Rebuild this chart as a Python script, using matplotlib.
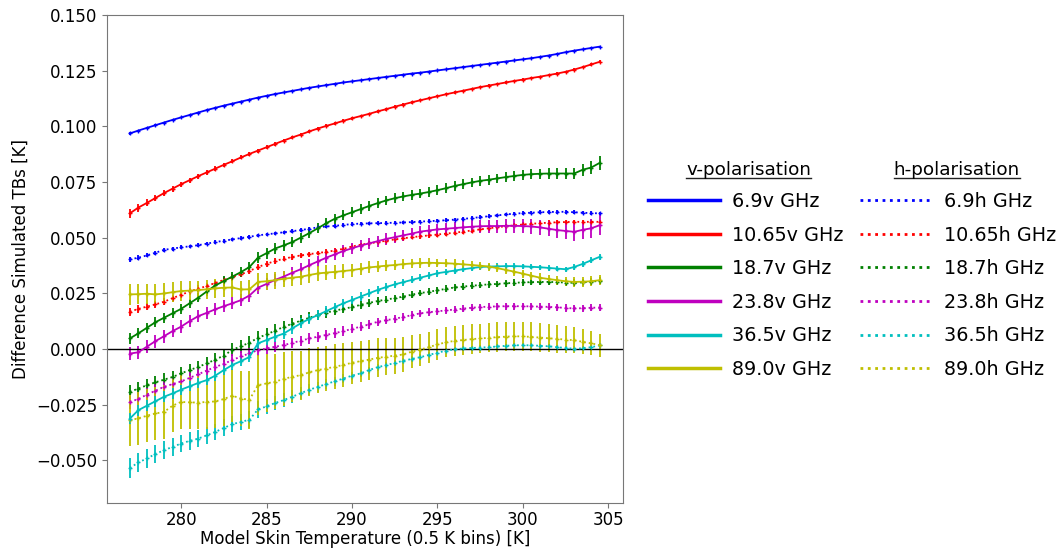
import numpy as np
import matplotlib
matplotlib.use('Agg')
import matplotlib.pyplot as plt
from matplotlib.lines import Line2D

plt.rcParams['font.family'] = 'DejaVu Sans'
plt.rcParams['font.size'] = 12

# ── data (values in mK, converted to K below) ─────────────
skin_temp = np.arange(277.0, 305.0, 0.5)   # 0.5 K bin centres

freqs = ['6.9', '10.65', '18.7', '23.8', '36.5', '89.0']
colors = ['b', 'r', 'g', 'm', 'c', 'y']

v69 = [96.8, 98.1, 99.3, 100.5, 101.7, 102.9, 104.0, 105.1, 106.2, 107.3,
       108.3, 109.3, 110.2, 111.1, 112.0, 112.9, 113.7, 114.5, 115.2, 115.9,
       116.6, 117.3, 117.9, 118.5, 119.1, 119.7, 120.2, 120.7, 121.2, 121.7,
       122.2, 122.7, 123.2, 123.7, 124.1, 124.6, 125.1, 125.6, 126.1, 126.6,
       127.1, 127.6, 128.1, 128.6, 129.1, 129.6, 130.1, 130.6, 131.2, 131.8,
       132.5, 133.3, 134.0, 134.6, 135.2, 135.8]
v1065 = [60.9, 63.5, 65.6, 67.8, 70.0, 72.0, 74.0, 75.8, 77.6, 79.3,
         81.0, 82.7, 84.3, 86.0, 87.6, 89.1, 90.6, 92.1, 93.6, 95.0,
         96.3, 97.7, 99.0, 100.2, 101.3, 102.5, 103.6, 104.6, 105.6, 106.7,
         107.7, 108.8, 109.8, 110.8, 111.7, 112.6, 113.5, 114.4, 115.2, 116.0,
         116.8, 117.6, 118.3, 119.0, 119.7, 120.4, 121.0, 121.7, 122.3, 123.0,
         123.7, 124.5, 125.5, 126.6, 127.8, 129.0]
v187 = [4.7, 7.0, 9.5, 12.0, 14.0, 16.0, 18.0, 20.5, 23.0, 25.8,
        28.5, 30.5, 32.5, 34.5, 36.8, 41.0, 43.0, 45.1, 46.5, 48.0,
        50.0, 52.0, 54.2, 56.5, 58.5, 60.0, 61.4, 62.8, 64.2, 65.5,
        66.7, 67.7, 68.5, 69.2, 69.8, 70.5, 71.3, 72.2, 73.2, 74.0,
        74.8, 75.5, 76.0, 76.6, 77.2, 77.7, 78.2, 78.5, 78.7, 78.8,
        78.8, 78.8, 78.8, 80.5, 81.5, 83.6]
v238 = [-2.1, -1.5, 1.0, 3.5, 5.7, 8.0, 10.0, 12.5, 14.7, 16.2,
        17.8, 19.2, 20.5, 21.9, 24.0, 27.5, 29.2, 31.0, 32.5, 34.2,
        35.8, 37.6, 39.3, 41.0, 42.5, 44.0, 45.2, 46.4, 47.4, 48.4,
        49.4, 50.2, 51.0, 51.8, 52.7, 53.2, 53.7, 54.0, 54.3, 54.6,
        54.9, 55.1, 55.2, 55.2, 55.3, 55.3, 55.2, 55.0, 54.6, 54.0,
        53.4, 53.0, 52.6, 53.5, 54.2, 55.6]
v365 = [-31.3, -27.5, -25.5, -23.5, -21.5, -20.0, -18.3, -16.8, -15.3, -14.0,
        -12.0, -9.5, -7.2, -5.5, -3.6, 2.5, 4.0, 5.5, 6.9, 9.2,
        11.5, 13.5, 15.2, 17.0, 18.8, 20.5, 22.0, 23.5, 25.0, 26.5,
        27.8, 29.0, 30.0, 31.0, 32.0, 33.0, 34.0, 34.6, 35.2, 35.8,
        36.3, 36.8, 37.0, 37.1, 37.2, 37.2, 37.1, 36.9, 36.7, 36.4,
        36.1, 35.8, 36.8, 38.2, 39.8, 41.4]
v890 = [24.5, 24.6, 24.8, 24.5, 24.9, 25.5, 26.0, 26.2, 26.4, 26.8,
        27.2, 27.5, 27.6, 26.7, 26.8, 30.1, 30.4, 30.9, 31.5, 32.0,
        32.4, 33.2, 33.9, 34.3, 34.6, 35.0, 35.4, 36.0, 36.6, 37.0,
        37.4, 37.7, 38.1, 38.4, 38.6, 38.7, 38.6, 38.5, 38.3, 38.0,
        37.7, 37.4, 37.0, 36.3, 35.5, 34.7, 33.8, 32.9, 32.0, 31.4,
        30.9, 30.4, 30.1, 30.2, 30.4, 30.9]

h69 = [40.2, 41.0, 42.0, 43.2, 44.5, 45.1, 45.6, 46.1, 46.6, 47.3,
       48.0, 48.6, 49.2, 49.8, 50.4, 51.0, 51.5, 51.9, 52.4, 52.9,
       53.4, 54.0, 54.6, 55.0, 55.3, 55.7, 56.1, 56.3, 56.4, 56.5,
       56.6, 56.7, 56.8, 57.0, 57.2, 57.4, 57.6, 57.8, 58.1, 58.4,
       58.8, 59.2, 59.6, 60.0, 60.4, 60.8, 61.0, 61.2, 61.4, 61.5,
       61.6, 61.6, 61.4, 61.2, 61.0, 60.9]
h1065 = [16.7, 18.0, 19.0, 20.0, 21.2, 22.8, 24.3, 25.8, 27.0, 28.3,
         29.6, 31.0, 32.2, 33.5, 35.0, 36.8, 38.2, 39.5, 40.5, 41.3,
         42.0, 42.6, 43.1, 43.6, 44.2, 45.0, 46.0, 46.8, 47.4, 48.0,
         48.6, 49.2, 49.7, 50.2, 50.6, 51.0, 51.4, 51.8, 52.2, 52.7,
         53.2, 53.7, 54.2, 54.7, 55.1, 55.5, 55.9, 56.2, 56.5, 56.7,
         56.9, 57.0, 57.1, 57.1, 57.1, 57.1]
h187 = [-19.3, -17.8, -16.3, -15.0, -13.8, -12.6, -11.0, -9.5, -8.1, -6.5,
        -4.8, -3.0, -0.4, 1.2, 2.8, 5.0, 6.5, 8.2, 9.9, 11.3,
        12.7, 14.0, 15.3, 16.3, 17.2, 18.0, 18.8, 19.8, 20.7, 21.5,
        22.2, 22.8, 23.5, 24.4, 25.1, 25.7, 26.3, 27.0, 27.6, 28.0,
        28.4, 28.7, 29.0, 29.2, 29.5, 29.7, 29.9, 30.0, 30.1, 30.1,
        30.0, 29.8, 29.7, 29.9, 30.2, 30.6]
h238 = [-23.8, -22.5, -20.5, -18.8, -17.0, -15.8, -14.6, -13.0, -11.4, -9.7,
        -8.1, -6.7, -5.0, -3.4, -2.0, -0.5, 0.2, 1.0, 1.7, 2.7,
        3.7, 4.7, 5.5, 6.3, 7.1, 8.0, 9.0, 10.0, 11.0, 12.2,
        12.9, 13.6, 14.3, 15.2, 16.0, 16.5, 16.9, 17.3, 17.7, 18.1,
        18.5, 18.8, 19.0, 19.1, 19.2, 19.2, 19.2, 19.1, 19.0, 18.9,
        18.7, 18.4, 18.2, 18.3, 18.5, 18.6]
h365 = [-53.5, -51.0, -49.2, -47.2, -45.5, -44.0, -42.5, -41.3, -40.3, -38.8,
        -37.3, -35.5, -33.8, -32.8, -31.8, -27.2, -25.8, -24.3, -23.0, -21.5,
        -19.9, -18.4, -17.0, -15.8, -14.5, -13.3, -12.0, -11.0, -9.5, -8.2,
        -7.3, -6.3, -5.3, -4.5, -3.7, -2.7, -1.7, -0.8, -0.2, 0.2,
        0.4, 0.6, 0.8, 1.1, 1.4, 1.6, 1.7, 1.6, 1.4, 1.2,
        0.8, 0.4, 0.1, 0.3, 0.8, 1.6]
h890 = [-32.0, -31.2, -30.0, -29.0, -28.3, -25.5, -23.8, -24.0, -24.1, -23.8,
        -23.6, -22.5, -21.0, -22.3, -22.8, -16.3, -15.5, -14.7, -13.5, -12.5,
        -11.8, -10.5, -9.5, -8.8, -8.0, -7.2, -6.2, -5.5, -4.8, -4.0,
        -3.5, -3.0, -2.5, -1.2, -0.3, 0.8, 2.0, 3.0, 3.6, 4.0,
        4.4, 4.7, 5.0, 5.3, 5.5, 5.7, 5.6, 5.4, 5.1, 4.8,
        4.5, 4.2, 3.9, 3.2, 2.5, 1.7]

# error bar half-lengths (mK)
err_v69 = [0.5, 0.4, 0.4, 0.4, 0.4, 0.3, 0.3, 0.3, 0.3, 0.3,
           0.3, 0.3, 0.3, 0.3, 0.3, 0.3, 0.3, 0.3, 0.3, 0.3,
           0.3, 0.3, 0.3, 0.3, 0.3, 0.3, 0.3, 0.3, 0.3, 0.3,
           0.3, 0.3, 0.3, 0.3, 0.3, 0.3, 0.3, 0.3, 0.3, 0.3,
           0.3, 0.3, 0.3, 0.3, 0.3, 0.3, 0.3, 0.3, 0.3, 0.3,
           0.3, 0.3, 0.3, 0.3, 0.4, 0.4]
err_v1065 = [2.0, 1.8, 1.6, 1.5, 1.4, 1.3, 1.2, 1.2, 1.1, 1.1,
             1.0, 1.0, 1.0, 0.9, 0.9, 0.9, 0.8, 0.8, 0.8, 0.8,
             0.7, 0.7, 0.7, 0.7, 0.7, 0.6, 0.6, 0.6, 0.6, 0.6,
             0.6, 0.6, 0.6, 0.6, 0.5, 0.5, 0.5, 0.5, 0.5, 0.5,
             0.5, 0.5, 0.5, 0.5, 0.5, 0.5, 0.5, 0.5, 0.5, 0.5,
             0.5, 0.5, 0.5, 0.6, 0.6, 0.7]
err_v187 = [2.4, 2.3, 2.3, 2.2, 2.2, 2.2, 2.2, 2.1, 2.1, 2.1,
            2.1, 2.1, 2.1, 2.2, 2.3, 2.5, 2.4, 2.3, 2.3, 2.3,
            2.3, 2.3, 2.3, 2.3, 2.3, 2.3, 2.3, 2.3, 2.3, 2.3,
            2.2, 2.2, 2.2, 2.2, 2.2, 2.2, 2.2, 2.2, 2.2, 2.2,
            2.2, 2.2, 2.2, 2.2, 2.2, 2.2, 2.3, 2.3, 2.3, 2.3,
            2.4, 2.4, 2.5, 2.6, 2.8, 3.0]
err_v238 = [3.0, 3.0, 3.0, 2.9, 2.9, 2.8, 2.8, 2.8, 2.7, 2.7,
            2.7, 2.7, 2.7, 2.7, 2.8, 2.8, 2.7, 2.7, 2.6, 2.6,
            2.6, 2.6, 2.5, 2.5, 2.5, 2.5, 2.5, 2.5, 2.5, 2.5,
            2.5, 2.5, 2.5, 2.5, 2.6, 2.6, 2.6, 2.6, 2.7, 2.7,
            2.8, 2.8, 2.9, 2.9, 3.0, 3.0, 3.1, 3.2, 3.3, 3.4,
            3.5, 3.7, 3.9, 4.0, 4.2, 4.4]
err_v365 = [2.5, 2.5, 2.4, 2.4, 2.4, 2.3, 2.3, 2.3, 2.3, 2.3,
            2.3, 2.3, 2.3, 2.3, 2.4, 2.5, 2.4, 2.4, 2.3, 2.3,
            2.2, 2.2, 2.1, 2.1, 2.0, 2.0, 1.9, 1.9, 1.8, 1.8,
            1.7, 1.7, 1.6, 1.6, 1.5, 1.5, 1.5, 1.4, 1.4, 1.4,
            1.3, 1.3, 1.3, 1.3, 1.2, 1.2, 1.2, 1.2, 1.2, 1.2,
            1.2, 1.2, 1.2, 1.3, 1.3, 1.4]
err_v890 = [4.6, 4.6, 4.5, 4.5, 4.5, 4.4, 4.4, 4.3, 4.3, 4.2,
            4.2, 4.1, 4.1, 4.0, 4.0, 4.0, 3.9, 3.8, 3.7, 3.6,
            3.5, 3.4, 3.3, 3.2, 3.1, 3.0, 2.9, 2.8, 2.7, 2.6,
            2.5, 2.4, 2.3, 2.2, 2.1, 2.0, 2.0, 1.9, 1.9, 1.8,
            1.8, 1.8, 1.8, 1.8, 1.8, 1.8, 1.8, 1.8, 1.9, 1.9,
            2.0, 2.0, 2.1, 2.2, 2.3, 2.4]

err_h69 = [1.0, 1.0, 0.9, 0.9, 0.9, 0.9, 0.9, 0.8, 0.8, 0.8,
           0.8, 0.8, 0.8, 0.8, 0.8, 0.8, 0.8, 0.8, 0.8, 0.8,
           0.8, 0.8, 0.8, 0.8, 0.8, 0.8, 0.8, 0.8, 0.8, 0.8,
           0.8, 0.8, 0.8, 0.8, 0.8, 0.8, 0.8, 0.8, 0.8, 0.8,
           0.8, 0.8, 0.8, 0.8, 0.8, 0.8, 0.8, 0.8, 0.8, 0.8,
           0.8, 0.8, 0.8, 0.8, 0.8, 0.8]
err_h1065 = [1.8, 1.8, 1.7, 1.7, 1.6, 1.6, 1.5, 1.5, 1.5, 1.4,
             1.4, 1.4, 1.3, 1.3, 1.3, 1.3, 1.2, 1.2, 1.2, 1.2,
             1.1, 1.1, 1.1, 1.1, 1.0, 1.0, 1.0, 1.0, 1.0, 1.0,
             1.0, 1.0, 1.0, 1.0, 1.0, 1.0, 1.0, 1.0, 1.0, 1.0,
             1.0, 1.0, 1.0, 1.0, 1.0, 1.0, 1.0, 1.0, 1.0, 1.0,
             1.0, 1.0, 1.0, 1.0, 1.0, 1.0]
err_h187 = [3.0, 3.0, 2.9, 2.9, 2.8, 2.8, 2.8, 2.8, 2.8, 2.8,
            2.8, 2.8, 2.9, 3.0, 3.0, 3.0, 2.9, 2.8, 2.7, 2.6,
            2.5, 2.4, 2.3, 2.2, 2.1, 2.0, 1.9, 1.8, 1.8, 1.7,
            1.7, 1.6, 1.6, 1.6, 1.5, 1.5, 1.5, 1.5, 1.5, 1.5,
            1.5, 1.5, 1.5, 1.5, 1.5, 1.5, 1.5, 1.5, 1.5, 1.5,
            1.5, 1.5, 1.5, 1.5, 1.5, 1.5]
err_h238 = [3.2, 3.1, 3.0, 3.0, 2.9, 2.9, 2.8, 2.8, 2.8, 2.7,
            2.7, 2.7, 2.7, 2.6, 2.6, 2.6, 2.5, 2.5, 2.4, 2.4,
            2.3, 2.3, 2.2, 2.2, 2.1, 2.1, 2.0, 2.0, 2.0, 1.9,
            1.9, 1.8, 1.8, 1.8, 1.7, 1.7, 1.7, 1.6, 1.6, 1.6,
            1.6, 1.6, 1.6, 1.6, 1.6, 1.6, 1.6, 1.6, 1.6, 1.6,
            1.6, 1.6, 1.6, 1.6, 1.6, 1.6]
err_h365 = [4.5, 4.3, 4.2, 4.1, 4.0, 4.0, 3.9, 3.9, 3.8, 3.8,
            3.8, 3.8, 3.7, 3.7, 3.7, 3.7, 3.5, 3.3, 3.1, 2.9,
            2.7, 2.5, 2.3, 2.2, 2.0, 1.9, 1.8, 1.7, 1.6, 1.5,
            1.4, 1.3, 1.3, 1.2, 1.2, 1.1, 1.1, 1.0, 1.0, 1.0,
            1.0, 1.0, 1.0, 1.0, 1.0, 1.0, 1.0, 1.0, 1.0, 1.0,
            1.0, 1.0, 1.0, 1.0, 1.0, 1.0]
err_h890 = [11.5, 11.8, 12.0, 12.0, 12.0, 12.0, 12.0, 12.0, 12.0, 12.0,
            12.0, 12.0, 12.0, 12.5, 13.0, 13.5, 13.0, 12.5, 12.0, 11.5,
            11.0, 10.8, 10.5, 10.2, 10.0, 9.8, 9.5, 9.2, 9.0, 8.7,
            8.4, 8.1, 7.8, 7.5, 7.2, 7.0, 6.8, 6.7, 6.6, 6.6,
            6.6, 6.6, 6.6, 6.6, 6.6, 6.6, 6.5, 6.5, 6.4, 6.3,
            6.2, 6.0, 5.8, 5.6, 5.4, 5.2]

v_series = [v69, v1065, v187, v238, v365, v890]
h_series = [h69, h1065, h187, h238, h365, h890]
v_errors = [err_v69, err_v1065, err_v187, err_v238, err_v365, err_v890]
h_errors = [err_h69, err_h1065, err_h187, err_h238, err_h365, err_h890]

# ── figure ────────────────────────────────────────────────
fig = plt.figure(figsize=(10.62, 5.5), dpi=100)
ax = fig.add_axes([0.1005, 0.0855, 0.486, 0.8872])

for vals, errs, c in zip(h_series, h_errors, colors):
    ax.errorbar(skin_temp, np.array(vals) / 1000, yerr=np.array(errs) / 1000,
                fmt=':', color=c, lw=1.3, elinewidth=1.3,
                marker='+', ms=3, mew=1.0)
for vals, errs, c in zip(v_series, v_errors, colors):
    ax.errorbar(skin_temp, np.array(vals) / 1000, yerr=np.array(errs) / 1000,
                fmt='-', color=c, lw=1.3, elinewidth=1.3,
                marker='+', ms=3, mew=1.0)

ax.axhline(0, color='black', lw=1.0)
ax.set_xlim(275.65, 305.85)
ax.set_ylim(-0.0692, 0.150)
ax.set_xticks([280, 285, 290, 295, 300, 305])
ax.set_yticks(np.arange(-0.050, 0.151, 0.025))
ax.set_xlabel("Model Skin Temperature (0.5 K bins) [K]", labelpad=1)
ax.set_ylabel("Difference Simulated TBs [K]")
for sp in ax.spines.values():
    sp.set_color('#777777')
ax.tick_params(color='#777777')
ax.tick_params(axis='x', pad=2)

# ── legend: two columns with underlined headers ──────────
handles, labels = [], []
for f, c in zip(freqs, colors):
    handles.append(Line2D([], [], color=c, lw=2.5, ls='-'))
    labels.append(f"{f}v GHz")
for f, c in zip(freqs, colors):
    handles.append(Line2D([], [], color=c, lw=2.0, ls=':'))
    labels.append(f"{f}h GHz")

fig.legend(handles, labels, ncol=2, loc='upper left',
           bbox_to_anchor=(0.610, 0.651), frameon=False, fontsize=13.8,
           handlelength=3.75, handletextpad=0.65, columnspacing=0.85,
           labelspacing=0.76, borderpad=0, borderaxespad=0)

headers = [fig.text(0.705, 0.691, "v-polarisation", ha='center', va='center', fontsize=13.2),
           fig.text(0.901, 0.691, "h-polarisation", ha='center', va='center', fontsize=13.2)]
fig.canvas.draw()
rend = fig.canvas.get_renderer()
W, H = fig.bbox.width, fig.bbox.height
for t in headers:
    bb = t.get_window_extent(rend)
    y = (bb.y0 + 1) / H
    fig.add_artist(Line2D([bb.x0 / W, bb.x1 / W], [y, y], color='#222222', lw=1.0,
                          transform=fig.transFigure))

fig.savefig('out.png', dpi=100)
plt.close(fig)
print("Saved out.png")
